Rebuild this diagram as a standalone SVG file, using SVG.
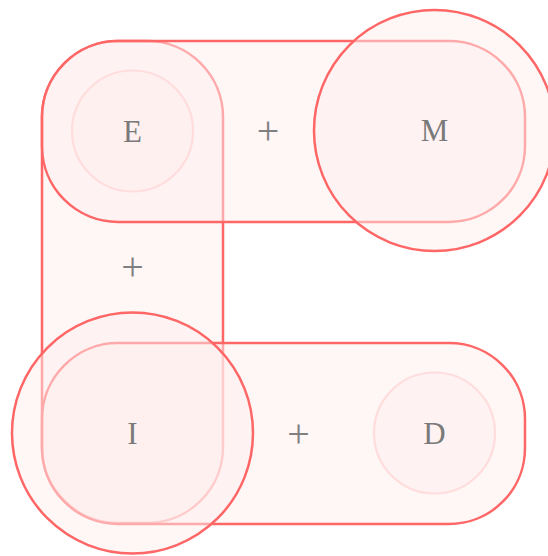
<svg xmlns="http://www.w3.org/2000/svg" width="548" height="556" viewBox="0 0 548 556">
<style>
.band{fill:#ffeeee;fill-opacity:0.5;stroke:#ff6666;stroke-width:2.5}
.big{fill:#ffeeee;fill-opacity:0.5;stroke:#ff6666;stroke-width:2.5}
.small{fill:#ffeeee;fill-opacity:0.5;stroke:#ffdddd;stroke-width:2.2}
.lbl{font-family:"Liberation Serif",serif;font-size:31px;fill:#7a7a7a;text-anchor:middle}
.op{font-family:"Liberation Serif",serif;font-size:40px;fill:#808080;text-anchor:middle}
</style>
<rect width="548" height="556" fill="#ffffff"/>
<g id="connectors">
<rect id="band-EI" class="band" x="42" y="41" width="181" height="482" rx="76" ry="76"/>
<rect id="band-EM" class="band" x="42" y="41" width="483" height="181" rx="76" ry="76"/>
<rect id="band-ID" class="band" x="42" y="343" width="483" height="181" rx="76" ry="76"/>
<text class="op" x="268" y="143.5">+</text>
<text class="op" x="132.5" y="279.5">+</text>
<text class="op" x="298.5" y="446.5">+</text>
</g>
<g id="node-E">
<circle class="small" cx="132.5" cy="131" r="60.5"/>
<text class="lbl" x="132.5" y="141.7">E</text>
</g>
<g id="node-D">
<circle class="small" cx="434.5" cy="433" r="60.5"/>
<text class="lbl" x="434.5" y="444">D</text>
</g>
<g id="node-M">
<circle class="big" cx="434.5" cy="130.5" r="120.5"/>
<text class="lbl" x="434.5" y="141">M</text>
</g>
<g id="node-I">
<circle class="big" cx="132.5" cy="433" r="120.5"/>
<text class="lbl" x="132.5" y="444">I</text>
</g>
</svg>
